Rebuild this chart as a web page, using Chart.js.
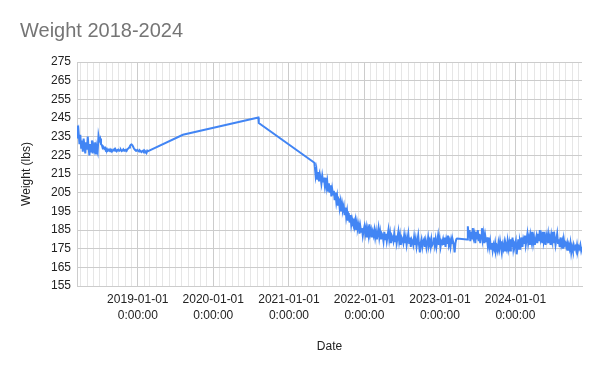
<!DOCTYPE html>
<html><head><meta charset="utf-8">
<script src="https://cdn.jsdelivr.net/npm/chart.js@4.4.0/dist/chart.umd.min.js"></script>
<style>html,body{margin:0;padding:0;background:#fff}#wrap{width:600px;height:371px;position:relative}</style>
</head><body><div id="wrap"><canvas id="c" width="600" height="371"></canvas></div>
<script>
const chartTitle = 'Weight 2018-2024';
const yAxisTitle = 'Weight (lbs)';
const xAxisTitle = 'Date';
const yTickValues = [155, 165, 175, 185, 195, 205, 215, 225, 235, 245, 255, 265, 275];

// Early readings: one every 4 days starting 2018-03-13
const earlyStart = '2018-03-13';
const earlyStepDays = 4;
const earlyWeights = [
  241, 234, 237, 231, 236, 229, 233, 227, 234, 230, 226, 232, 228, 235, 229, 225, 231, 227, 233, 226, 230, 228, 232, 226, 229, 227,
  235.5, 233, 234, 231, 230.5, 229, 229.5, 228.5, 229, 228, 228.5, 227.5,
  228, 227.5, 228.2, 227.6, 228, 227.3, 227.8, 228.3, 227.5, 227.9, 227.2, 227.8, 228.1, 227.4, 227.7, 228, 227.3, 227.6, 228.2, 227.5, 227.8, 228, 227.4, 228.3, 228.6,
  229.2, 230, 230.6, 230.8, 230.4, 229.5, 228.5, 228, 227.8, 227.5, 227.9, 227.4, 227, 227.6, 227.2, 226.8, 227.3, 227.5, 226.5, 227.4, 227, 226.3, 227.5, 227.2
];

// Sparse readings in between
const sparseDates = ['2019-08-07', '2020-08-06', '2020-08-08', '2021-05-04'];
const sparseWeights = [236, 245.3, 242.3, 221];

// Late readings: one every 4 days starting 2021-05-06 (null = no reading)
const lateStart = '2021-05-06';
const lateStepDays = 4;
const lateWeights = [
  219, 214, 217, 212, 216, 211, 215, 213, 210, 214, 211, 213,
  209, 213, 208, 211, 206, 210, 205, 209, 203, 207, 204, 206,
  201, 205, 200, 203, 198, 202, 197, 200, 195, 199, 196, 198,
  193, 197, 192, 195, 190, 194, 189, 193, 188, 191, 189, 190,
  187, 190, 185, 189, 186, 188, 183, 187, 184, 186, 182, 185,
  187, 183, 186, 181, 185, 182, 188, 183, 185, 181, 184, 182,
  185, 181, 184, 180, 183, 186, 181, 184, 180, 183, 182, 179,
  184, 180, 183, 179, 182, 185, 180, 183, 178, 182, 181, 179,
  183, 179, 182, 178, 181, 184, 179, 182, 177, 181, 180, 178,
  182, 178, 181, 177, 180, 183, 178, 181, 176, 180, 179, 177,
  181, 177, 180, 176, 179, 182, 177, 173, 178, 180, 176, 179,
  180, 176, 179, 175.5, 178, 181, 177, 179, 176, 180, 177, 178,
  181, 177, 180, 176, 179, 182, 177, 180, 176, 179, 178, 180,
  177, 181, 176, 180, 178, 182, 177, 179, 176, 180, 178, 179,
  177, 173, 178, 180,
  180.4, null, null, null, null, null, null, null, null, null, null, null, 179.9,
  187, 181, 185, 179, 184, 180, 186, 181, 183, 178, 184, 180,
  185, 179, 183, 178, 182, 186, 180, 183, 178, 182, 179, 181,
  177, 181, 176, 179, 175, 178, 174, 177, 175, 178, 174, 176,
  174, 178, 175, 179, 176, 173, 177, 175, 178, 174, 177, 175,
  179, 175, 178, 174, 180, 176, 181, 175, 178, 177, 179, 172,
  176, 180, 175, 179, 177, 181, 176, 180, 178, 182, 177, 180,
  183, 178, 181, 177, 182, 179, 184, 178, 181, 177, 180, 182,
  178, 183, 179, 185, 180, 182, 178, 184, 179, 181, 177, 182,
  180, 183, 178, 181, 177, 182, 179, 184, 178, 181, 177, 180,
  183, 178, 180, 176, 181, 177, 179, 175, 180, 177, 178, 176,
  178, 174, 177, 175, 178, 173, 176, 174, 177, 175, 176, 174,
  177, 174, 176, 175, 177, 174, 176
];

const DAY = 86400000;
function toDay(s) { const [y, m, d] = s.split('-').map(Number); return Date.UTC(y, m - 1, d) / DAY; }
function fromDay(v) { return new Date(Math.round(v) * DAY); }

const points = [];
const e0 = toDay(earlyStart);
earlyWeights.forEach((w, i) => { if (w !== null) points.push({ x: e0 + i * earlyStepDays, y: w }); });
sparseDates.forEach((d, i) => points.push({ x: toDay(d), y: sparseWeights[i] }));
const l0 = toDay(lateStart);
lateWeights.forEach((w, i) => { if (w !== null) points.push({ x: l0 + i * lateStepDays, y: w }); });

const xMin = e0;
const xMax = l0 + (lateWeights.length - 1) * lateStepDays;

// monthly ticks
const monthTicks = [];
for (let y = 2018; y <= 2024; y++) for (let m = 0; m < 12; m++) {
  const v = Date.UTC(y, m, 1) / DAY;
  if (v >= xMin && v <= xMax) monthTicks.push(v);
}
function isYearStart(v) { const d = fromDay(v); return d.getUTCMonth() === 0 && d.getUTCDate() === 1; }

const FONT = '"Liberation Sans", Arial, sans-serif';
Chart.defaults.font.family = FONT;

const titlePlugin = {
  id: 'pageTitle',
  afterDraw(chart) {
    const ctx = chart.ctx;
    ctx.save();
    ctx.font = '20px ' + FONT;
    ctx.fillStyle = '#757575';
    ctx.textBaseline = 'alphabetic';
    ctx.textAlign = 'left';
    ctx.fillText(chartTitle, 20, 37);
    ctx.restore();
  }
};

new Chart(document.getElementById('c'), {
  type: 'line',
  data: { datasets: [{
    data: points,
    borderColor: '#4285f4',
    borderWidth: 2,
    pointRadius: 0,
    tension: 0,
    fill: false,
    spanGaps: true
  }]},
  options: {
    responsive: false,
    animation: false,
    events: [],
    layout: { padding: { top: 62, left: 0, right: 18, bottom: 0 } },
    plugins: { legend: { display: false }, tooltip: { enabled: false }, title: { display: false } },
    scales: {
      x: {
        type: 'linear',
        min: xMin, max: xMax,
        afterBuildTicks: s => { s.ticks = monthTicks.map(v => ({ value: v })); },
        afterFit: s => { s.height = 85; },
        ticks: {
          autoSkip: false, maxRotation: 0, minRotation: 0, padding: 6,
          color: '#222', font: { size: 12, lineHeight: 1.3 },
          callback: v => {
            if (!isYearStart(v)) return '';
            return [fromDay(v).getUTCFullYear() + '-01-01', '0:00:00'];
          }
        },
        grid: {
          drawTicks: false,
          color: c => (c.tick && isYearStart(c.tick.value)) ? '#cccccc' : '#e6e6e6',
          lineWidth: 1
        },
        border: { color: '#cccccc' },
        title: { display: true, text: xAxisTitle, color: '#222', font: { size: 12 }, padding: { top: 0, bottom: 17 } }
      },
      y: {
        min: 155, max: 275,
        afterBuildTicks: s => { s.ticks = yTickValues.map(v => ({ value: v })); },
        afterFit: s => { s.width = 77; },
        ticks: { color: '#222', font: { size: 12 }, padding: 6 },
        grid: { drawTicks: false, color: '#cccccc' },
        border: { color: '#cccccc' },
        title: { display: true, text: yAxisTitle, color: '#222', font: { size: 12 }, padding: { top: 19, bottom: 0 } }
      }
    }
  },
  plugins: [titlePlugin]
});
</script>
</body></html>
